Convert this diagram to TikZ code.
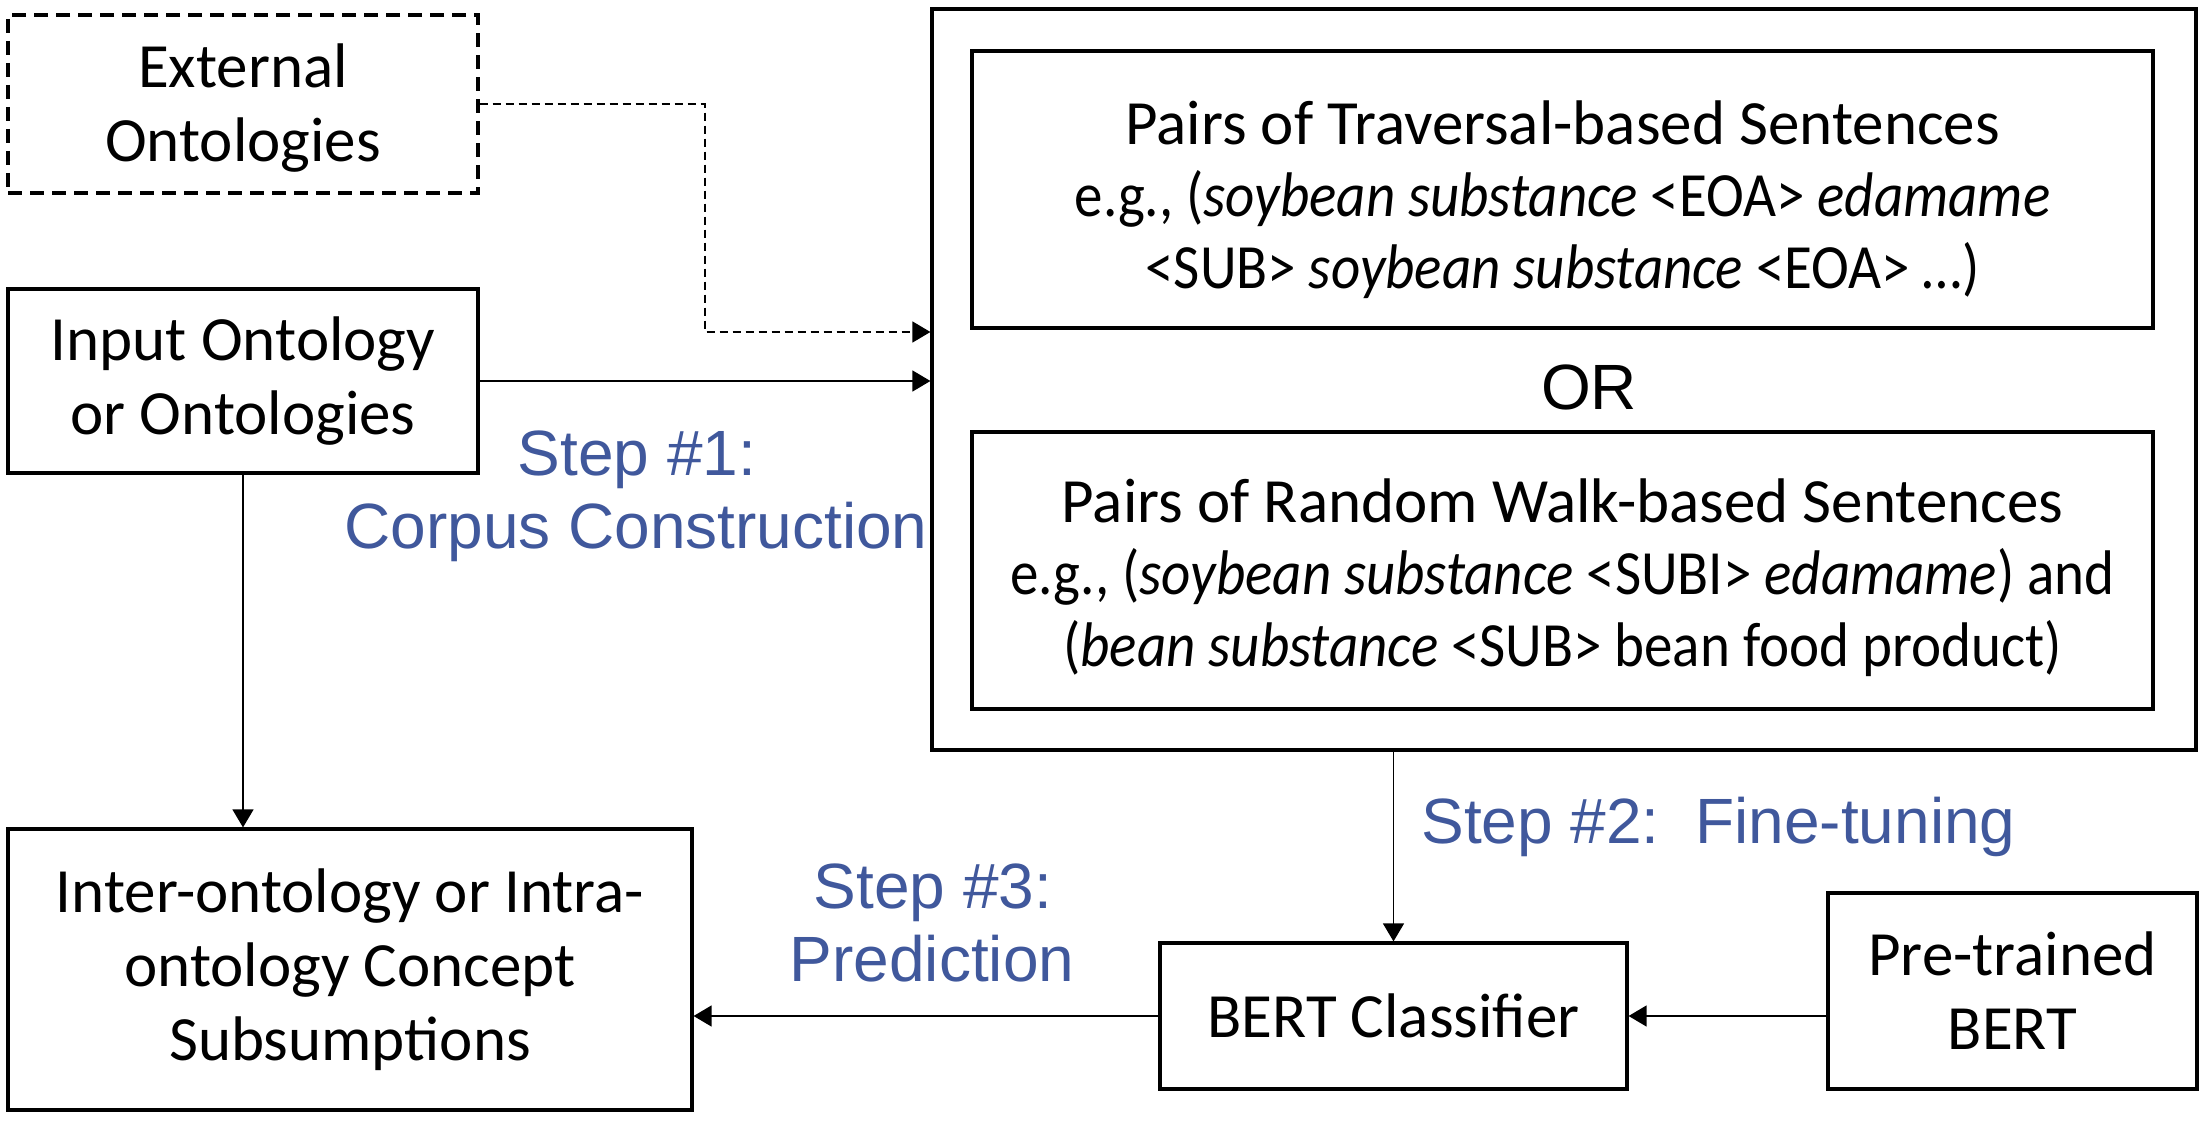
\documentclass[tikz,border=0pt]{standalone}
\usepackage{fontspec}
\usepackage{graphicx}
\setmainfont{Carlito}
\newfontfamily\arialf{Liberation Sans}
\usetikzlibrary{arrows.meta,calc}
\definecolor{stepblue}{RGB}{64,88,156}
\newcommand{\sq}[1]{\scalebox{0.905}[1]{#1}}
\begin{document}
\begin{tikzpicture}[x=0.5pt,y=-0.5pt,
  box/.style={draw,line width=1.6pt,inner sep=0pt,align=center,font=\fontsize{31.5}{37}\selectfont},
  txt/.style={inner sep=0pt,align=center,font=\fontsize{31.5}{36}\selectfont},
  conn/.style={line width=0.7pt,-{Triangle[length=9pt,width=10.5pt]}},
  dconn/.style={conn,dash pattern=on 4pt off 2.5pt},
  steplbl/.style={text=stepblue,font=\arialf\fontsize{32}{37}\selectfont,inner sep=0pt},
]
\useasboundingbox (0,0) rectangle (2211,1123);

% boxes
\node[box,minimum width=235pt,minimum height=89pt,dash pattern=on 7pt off 4pt] (ext) at (243,104) {};
\node[txt,font=\fontsize{31.5}{37}\selectfont] (exttxt) at (243,108) {External\\Ontologies};
\node[box,minimum width=235pt,minimum height=92pt] (inp) at (243,381) {Input Ontology\\or Ontologies};
\node[box,minimum width=632pt,minimum height=370.5pt] (outer) at (1564,379.5) {};
\node[box,minimum width=590.5pt,minimum height=138.5pt] (trav) at (1562.5,189.5) {};
\node[txt] (travtxt) at (1562.5,199.5)
  {Pairs of Traversal-based Sentences\\
   \sq{e.g., (\textit{soybean substance} <EOA> \textit{edamame}}\\
   \sq{<SUB> \textit{soybean substance} <EOA> …)}};
\node[inner sep=0pt,font=\arialf\fontsize{32}{37}\selectfont,anchor=base] (or) at (1589,409) {OR};
\node[box,minimum width=590.5pt,minimum height=138.5pt] (rand) at (1562.5,570.5) {};
\node[txt] (randtxt) at (1562.5,577.5)
  {Pairs of Random Walk-based Sentences\\
   \sq{e.g., (\textit{soybean substance} <SUBI> \textit{edamame}) and}\\
   \sq{(\textit{bean substance} <SUB> bean food product)}};
\node[box,minimum width=342pt,minimum height=140.5pt] (inter) at (350,969.5)
  {Inter-ontology or Intra-\\ontology Concept\\Subsumptions};
\node[box,minimum width=233.5pt,minimum height=73pt] (bert) at (1393.5,1016) {BERT Classifier};
\node[box,minimum width=184.5pt,minimum height=98pt] (pre) at (2012.5,991) {Pre-trained\\BERT};

% step labels
\node[steplbl,anchor=base] (s1a) at (637,475) {Step \#1:};
\node[steplbl,anchor=base] (s1b) at (636,548) {Corpus Construction};
\node[steplbl,anchor=base west] (s2) at (1421,843) {Step \#2:\ \ Fine-tuning};
\node[steplbl,anchor=base] (s3a) at (933,908) {Step \#3:};
\node[steplbl,anchor=base] (s3b) at (932,981) {Prediction};

% connectors
\coordinate (dj) at (705,332);
\draw[dconn] (ext.east) -| (dj) -- (outer.west |- dj);
\draw[conn] (inp.east) -- (outer.west |- inp.east);
\draw[conn] (inp.south) -- (inter.north -| inp.south);
\draw[conn] (outer.south -| bert.north) -- (bert.north);
\draw[conn] (pre.west |- bert.east) -- (bert.east);
\draw[conn] (bert.west) -- (inter.east |- bert.west);
\end{tikzpicture}
\end{document}
